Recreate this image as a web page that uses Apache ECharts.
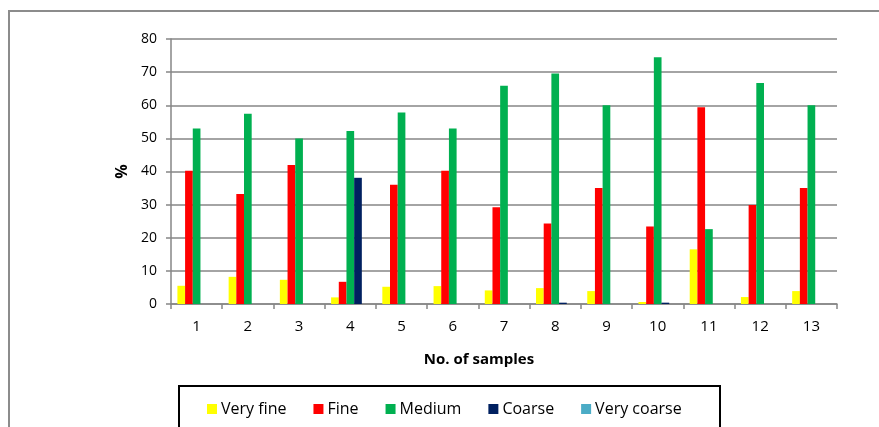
<!DOCTYPE html>
<html>
<head>
<meta charset="utf-8">
<script src="https://cdn.jsdelivr.net/npm/echarts@6/dist/echarts.min.js"></script>
<style>
  html, body { margin: 0; padding: 0; background: #ffffff; }
  #chart { width: 879px; height: 427px; }
</style>
</head>
<body>
<div id="chart"></div>
<script>
// Sample numbers along the x axis
const samples = ['1', '2', '3', '4', '5', '6', '7', '8', '9', '10', '11', '12', '13'];

// Percentage of each grain-size class per sample
const veryFine   = [5.5, 8.2, 7.3, 2.0, 5.2, 5.4, 4.1, 4.8, 3.9, 0.6, 16.5, 2.1, 3.9];
const fine       = [40.2, 33.2, 42.0, 6.7, 36.0, 40.2, 29.2, 24.3, 35.0, 23.4, 59.4, 29.9, 35.0];
const medium     = [53.0, 57.4, 50.0, 52.2, 57.8, 53.0, 65.9, 69.6, 60.0, 74.5, 22.6, 66.7, 60.0];
const coarse     = [0, 0, 0, 38.1, 0, 0, 0, 0.4, 0, 0.4, 0, 0, 0];
const veryCoarse = [0, 0, 0, 0, 0, 0, 0, 0, 0, 0, 0, 0, 0];

const seriesNames = ['Very fine', 'Fine', 'Medium', 'Coarse', 'Very coarse'];
const seriesColors = ['#ffff00', '#ff0000', '#00b050', '#002060', '#4bacc6'];
const seriesData = [veryFine, fine, medium, coarse, veryCoarse];

const FONT = '"Open Sans", sans-serif';
const gridColor = '#868686';

const chart = echarts.init(document.getElementById('chart'), null, { renderer: 'canvas' });

chart.setOption({
  animation: false,
  backgroundColor: '#ffffff',
  grid: { left: 171, right: 42, top: 39, bottom: 123, containLabel: false },
  legend: {
    data: seriesNames,
    left: 207,
    top: 401,
    padding: 0,
    itemWidth: 10,
    itemHeight: 10,
    itemGap: 27,
    icon: 'rect',
    textStyle: { fontFamily: FONT, fontSize: 16, color: '#000000', padding: [0, 0, 0, -1] }
  },
  xAxis: {
    type: 'category',
    data: samples,
    name: 'No. of samples',
    nameLocation: 'middle',
    nameGap: 48,
    nameTextStyle: {
      fontFamily: FONT, fontSize: 15, fontWeight: 'bold', color: '#000000',
      padding: [0, 50, 0, 0]
    },
    axisLine: { lineStyle: { color: gridColor, width: 1.5 } },
    axisTick: { show: true, length: 5, alignWithLabel: false, lineStyle: { color: gridColor, width: 1.5 } },
    axisLabel: { fontFamily: FONT, fontSize: 15, color: '#000000', margin: 15 }
  },
  yAxis: {
    type: 'value',
    min: 0,
    max: 80,
    interval: 10,
    name: '%',
    nameLocation: 'middle',
    nameGap: 40,
    nameRotate: 90,
    nameTextStyle: { fontFamily: FONT, fontSize: 16, fontWeight: 'bold', color: '#000000' },
    axisLine: { show: true, lineStyle: { color: gridColor, width: 1.5 } },
    axisTick: { show: true, length: 5, lineStyle: { color: gridColor, width: 1.5 } },
    axisLabel: { fontFamily: FONT, fontSize: 14, color: '#000000', margin: 14 },
    splitLine: { show: true, lineStyle: { color: gridColor, width: 1.5 } }
  },
  series: seriesNames.map((name, i) => ({
    name: name,
    type: 'bar',
    data: seriesData[i],
    barGap: '0%',
    barCategoryGap: '25%',
    itemStyle: { color: seriesColors[i] }
  })),
  graphic: [
    {
      // outer chart frame
      type: 'rect',
      shape: { x: 9, y: 11, width: 900, height: 440 },
      style: { fill: 'none', stroke: '#8c8c8c', lineWidth: 2 },
      silent: true,
      z: -1
    },
    {
      // legend frame
      type: 'rect',
      shape: { x: 179, y: 386, width: 541, height: 60 },
      style: { fill: 'none', stroke: '#000000', lineWidth: 2 },
      silent: true,
      z: -1
    }
  ]
});
</script>
</body>
</html>
